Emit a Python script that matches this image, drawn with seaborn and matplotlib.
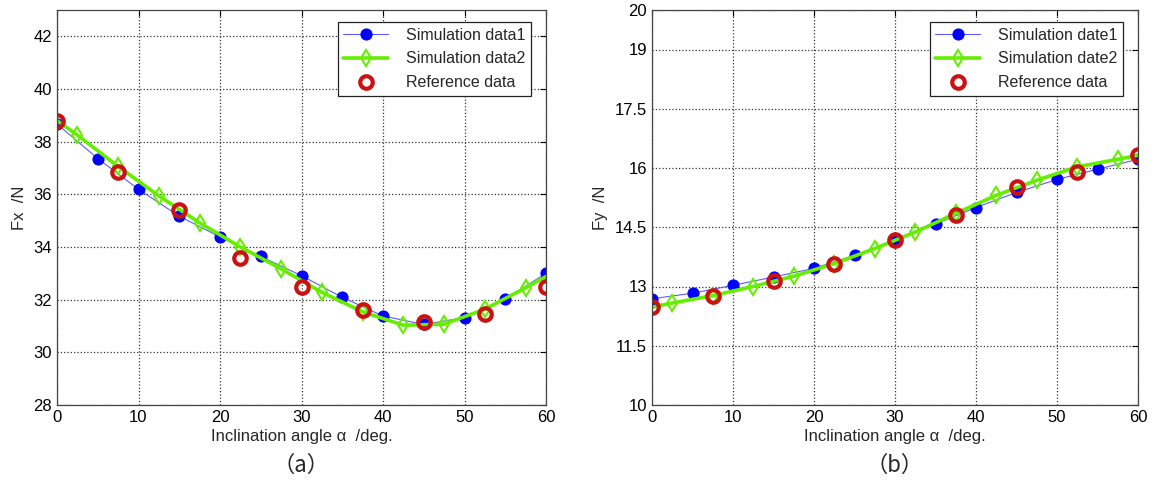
import matplotlib
matplotlib.use("Agg")
import matplotlib.pyplot as plt
import seaborn as sns
import numpy as np

# ---- data ----
x_sim1 = [0, 5, 10, 15, 20, 25, 30, 35, 40, 45, 50, 55, 60]
x_sim2 = [0, 2.5, 7.5, 12.5, 17.5, 22.5, 27.5, 32.5, 37.5, 42.5, 47.5, 52.5, 57.5, 60]
x_ref = [0, 7.5, 15, 22.5, 30, 37.5, 45, 52.5, 60]

fx_sim1 = [38.67, 37.36, 36.19, 35.17, 34.38, 33.64, 32.91, 32.09, 31.38, 31.06, 31.32, 32.02, 33.0]
fx_sim2 = [38.8, 38.25, 37.06, 35.94, 34.92, 34.0, 33.17, 32.28, 31.54, 31.03, 31.07, 31.64, 32.45, 32.88]
fx_ref = [38.8, 36.86, 35.4, 33.6, 32.5, 31.6, 31.16, 31.45, 32.5]

fy_sim1 = [12.69, 12.83, 13.03, 13.24, 13.46, 13.79, 14.17, 14.58, 15.0, 15.38, 15.71, 15.97, 16.22]
fy_sim2 = [12.48, 12.58, 12.77, 13.0, 13.26, 13.58, 13.96, 14.38, 14.85, 15.31, 15.69, 16.03, 16.22, 16.32]
fy_ref = [12.48, 12.75, 13.14, 13.58, 14.17, 14.8, 15.52, 15.9, 16.34]

labels_a = ["Simulation data1", "Simulation data2", "Reference data"]
labels_b = ["Simulation date1", "Simulation date2", "Reference data"]
yticks_a = [28, 30, 32, 34, 36, 38, 40, 42]
yticks_b = [10, 11.5, 13, 14.5, 16, 17.5, 19, 20]
ytick_labels_b = ["10", "11.5", "13", "14.5", "16", "17.5", "19", "20"]
xticks = [0, 10, 20, 30, 40, 50, 60]

sns.set_style("white")
plt.rcParams["font.family"] = ["Liberation Sans", "DejaVu Sans"]

fig = plt.figure(figsize=(11.52, 4.83), dpi=100)
ax1 = fig.add_axes([57/1152, 1-405/483, (546-57)/1152, (405-10)/483])
ax2 = fig.add_axes([652/1152, 1-405/483, (1138-652)/1152, (405-10)/483])


def draw(ax, s1, s2, ref, labels, ylim, yticks, yticklabels, ylabel, caption):
    sns.lineplot(x=x_sim1, y=s1, ax=ax, color="#5c5cff", linewidth=0.8,
                 marker="o", markersize=8, markerfacecolor="#0000ff",
                 markeredgecolor="#0000ff", label=labels[0])
    sns.lineplot(x=x_sim2, y=s2, ax=ax, color="#66ee00", linewidth=2.6,
                 marker="d", markersize=8, markerfacecolor="none",
                 markeredgecolor="#66ee00", markeredgewidth=1.5,
                 markevery=slice(1, -1), label=labels[1])
    sns.lineplot(x=x_ref, y=ref, ax=ax, linestyle="", marker="o",
                 markersize=9, markerfacecolor="none", markeredgecolor="#cc1111",
                 markeredgewidth=3.0, label=labels[2])
    ax.set_xlim(0, 60)
    ax.set_ylim(*ylim)
    ax.set_xticks(xticks)
    ax.set_yticks(yticks)
    ax.set_yticklabels(yticklabels)
    ax.grid(True, linestyle=":", color="#333333", linewidth=0.9)
    ax.tick_params(direction="in", top=True, right=True, labelsize=12,
                   length=4, width=0.8, colors="black")
    for sp in ax.spines.values():
        sp.set_visible(True)
        sp.set_color("#444444")
        sp.set_linewidth(0.9)
    ax.set_xlabel("Inclination angle α  /deg.", fontsize=12, labelpad=3)
    ax.set_ylabel(ylabel, fontsize=12, labelpad=5)
    leg = ax.legend(loc="upper right", fontsize=11.5, frameon=True, fancybox=False,
                    edgecolor="#222222", framealpha=1, borderpad=0.35,
                    handlelength=2.8, labelspacing=0.55, handletextpad=1.1,
                    bbox_to_anchor=(0.985, 0.99))
    leg.get_frame().set_linewidth(0.9)
    ax.text(0.5, -0.152, caption, transform=ax.transAxes, ha="center", va="center",
            fontsize=16, family=["Noto Sans CJK SC", "Liberation Serif"])


draw(ax1, fx_sim1, fx_sim2, fx_ref, labels_a, (28, 43), yticks_a,
     [str(v) for v in yticks_a], "Fx  /N", "（a）")
draw(ax2, fy_sim1, fy_sim2, fy_ref, labels_b, (10, 20), yticks_b,
     ytick_labels_b, "Fy  /N", "（b）")

fig.savefig("out.png", dpi=100, facecolor="white")
